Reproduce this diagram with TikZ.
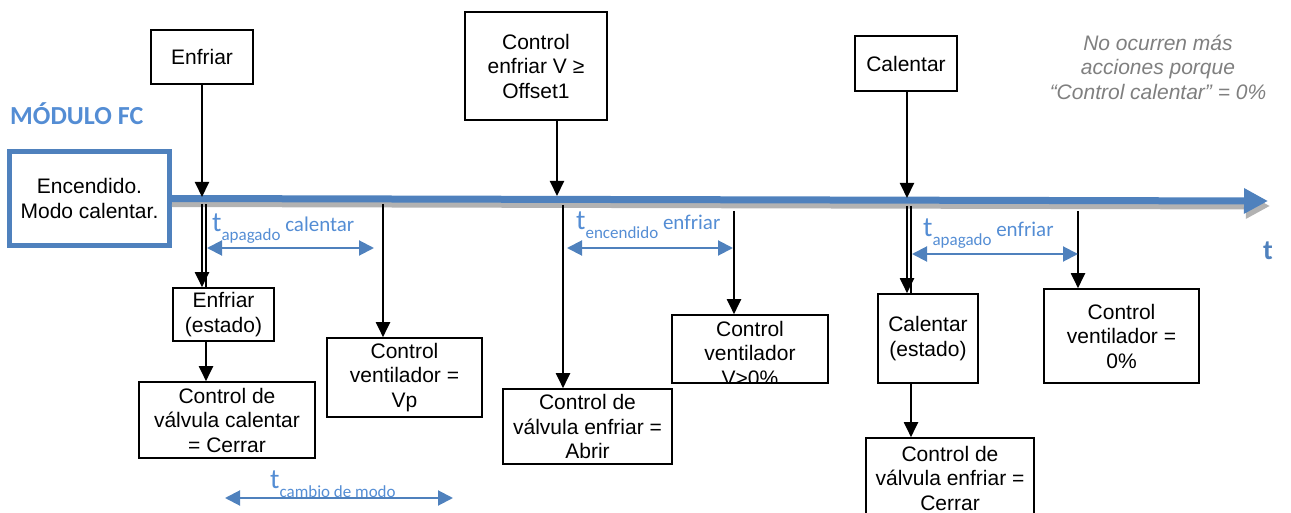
\documentclass[tikz,border=0pt]{standalone}
\usepackage{fontspec}
\setmainfont{Liberation Sans}
\newfontfamily\calibri{Carlito}
\usetikzlibrary{arrows.meta,calc}
\definecolor{lineblue}{RGB}{79,129,189}
\definecolor{textblue}{RGB}{84,141,212}
\definecolor{notegray}{RGB}{127,127,127}
\newcommand{\tlab}[2]{{\fontsize{28}{28}\selectfont t}\raisebox{-9pt}{\fontsize{17}{17}\selectfont #1} #2}

\begin{document}
\begin{tikzpicture}[x=1pt,y=-1pt,
    box/.style={draw,line width=1.6pt,align=center,inner sep=2pt,font=\fontsize{21}{24.5}\selectfont},
    arr/.style={-{Triangle[length=15pt,width=14pt]},line width=2pt},
    dim/.style={{Triangle[length=15pt,width=15pt]}-{Triangle[length=15pt,width=15pt]},lineblue,line width=2pt},
    dimlab/.style={anchor=base west,inner sep=0pt,text=textblue,font=\calibri\fontsize{21}{21}\selectfont}]
    \useasboundingbox (0,0) rectangle (1291,513);

    % timeline
    \node[box,line width=5pt,draw=lineblue,minimum width=160pt,minimum height=94pt] (encendido) at (89.5,198.5) {Encendido.\\Modo calentar.};
    \coordinate (tend) at (1268,201);
    \draw[gray!60,line width=7pt,-{Triangle[length=24pt,width=24pt]}] ($(encendido.east)+(0,5)$) -- ($(tend)+(2,5)$);
    \draw[lineblue,line width=7pt,-{Triangle[length=24pt,width=24pt]}] (encendido.east) -- (tend);
    \node[anchor=base west,inner sep=0pt,text=textblue,font=\calibri\bfseries\fontsize{26}{26}\selectfont] (modulo) at (10,125) {MÓDULO FC};
    \node[anchor=base west,inner sep=0pt,text=lineblue,font=\calibri\bfseries\fontsize{28}{28}\selectfont] (taxis) at (1263,260) {t};
    \node[align=center,text=notegray,font=\itshape\fontsize{21}{24.5}\selectfont] (note) at (1158,67) {No ocurren más\\acciones porque\\“Control calentar” = 0\%};

    % events
    \node[box,minimum width=102pt,minimum height=54pt] (enfriar) at (202,57) {Enfriar};
    \node[box,minimum width=142pt,minimum height=108pt] (ctrlenf) at (536,66) {Control\\enfriar V ≥\\Offset1};
    \node[box,minimum width=102pt,minimum height=55pt] (calentar) at (906,63.5) {Calentar};

    % actions
    \node[box,minimum width=101pt,minimum height=53pt] (estadoE) at (223.5,314.5) {Enfriar\\(estado)};
    \node[box,minimum width=176pt,minimum height=76pt] (valvCal) at (227,420) {Control de\\válvula calentar\\= Cerrar};
    \node[box,minimum width=155pt,minimum height=79pt] (ventVp) at (404.5,377.5) {Control\\ventilador =\\Vp};
    \node[box,minimum width=169pt,minimum height=75pt] (valvAbr) at (587.5,426.5) {Control de\\válvula enfriar =\\Abrir};
    \node[box,minimum width=156pt,minimum height=68pt] (ventV) at (750,349) {};
    \begin{scope}
        \clip (ventV.south west) rectangle (ventV.north east);
        \node[box,draw=none] (ventVtext) at (750,353) {Control\\ventilador\\V>0\%};
    \end{scope}
    \node[box,minimum width=100pt,minimum height=89pt] (estadoC) at (928,338.5) {Calentar\\(estado)};
    \node[box,minimum width=168pt,minimum height=80pt] (valvCer) at (950,478) {Control de\\válvula enfriar =\\Cerrar};
    \node[box,minimum width=155pt,minimum height=94pt] (vent0) at (1121.5,336) {Control\\ventilador =\\0\%};

    \coordinate (p1) at (202,197);
    \coordinate (p2) at (557,196);
    \coordinate (p3) at (907,198);
    \coordinate (q1) at (202,204);
    \coordinate (q1b) at (206,204);
    \coordinate (q2) at (383,204);
    \coordinate (q3) at (563,205);
    \coordinate (q4) at (734,211);
    \coordinate (q5) at (907,206);
    \coordinate (q5b) at (911,206);
    \coordinate (q6) at (1078,211);

    \draw[arr] (enfriar) -- (p1);
    \draw[arr] (ctrlenf.south -| p2) -- (p2);
    \draw[arr] (calentar.south -| p3) -- (p3);
    \draw[arr] (q1) -- (q1 |- estadoE.north);
    \draw[line width=2pt] (q1b) -- (q1b |- estadoE.north);
    \draw[arr] (estadoE.south -| q1b) -- (q1b |- valvCal.north);
    \draw[arr] (q2) -- (q2 |- ventVp.north);
    \draw[arr] (q3) -- (q3 |- valvAbr.north);
    \draw[arr] (q4) -- (q4 |- ventV.north);
    \draw[arr] (q5) -- (q5 |- estadoC.north);
    \draw[line width=2pt] (q5b) -- (q5b |- estadoC.north);
    \draw[arr] (estadoC.south -| q5b) -- (q5b |- valvCer.north);
    \draw[arr] (q6) -- (q6 |- vent0.north);

    % times
    \coordinate (d1a) at (207,248);
    \coordinate (d1b) at (374,248);
    \coordinate (d2a) at (567,248);
    \coordinate (d2b) at (733,248);
    \coordinate (d3a) at (912,254);
    \coordinate (d3b) at (1078,254);
    \coordinate (d4a) at (225,498);
    \coordinate (d4b) at (453,498);
    \node[dimlab] (l1) at (212,232) {\tlab{apagado}{calentar}};
    \node[dimlab] (l2) at (576,230) {\tlab{encendido}{enfriar}};
    \node[dimlab] (l3) at (923,237) {\tlab{apagado}{enfriar}};
    \node[dimlab] (l4) at (270,488) {\tlab{cambio de modo}{}};
    \draw[dim] (d1a) -- (d1b);
    \draw[dim] (d2a) -- (d2b);
    \draw[dim] (d3a) -- (d3b);
    \draw[dim] (d4a) -- (d4b);
\end{tikzpicture}
\end{document}
